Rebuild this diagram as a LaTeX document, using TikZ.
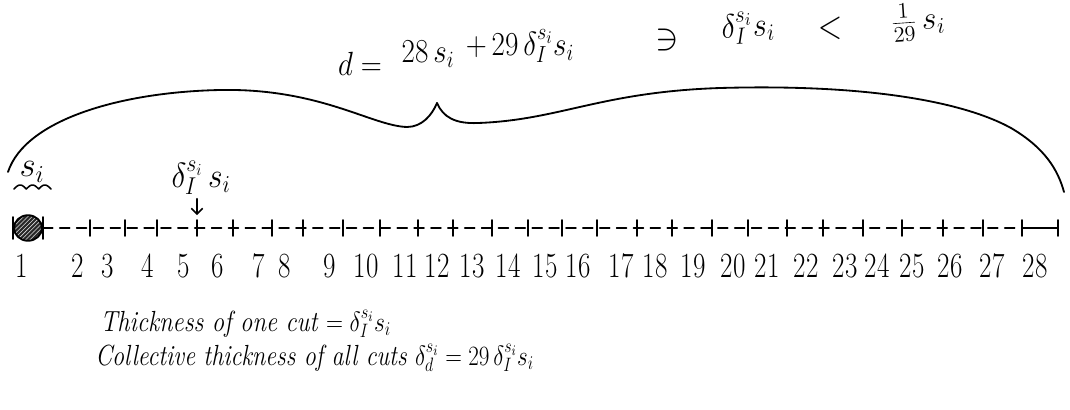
\documentclass[tikz,border=0pt]{standalone}
\usetikzlibrary{arrows.meta,patterns,calc,shapes.geometric}
\begin{document}
\begin{tikzpicture}[x=0.025cm,y=-0.025cm, line cap=round, line join=round,
  ink/.style={line width=1.3pt, black},
  tick/.style={line width=1.2pt, black},
  lbl/.style={font=\fontsize{24}{28}\selectfont, inner sep=0pt},
  biglbl/.style={font=\fontsize{22}{26}\selectfont, inner sep=0pt},
  txt/.style={font=\fontsize{18}{21}\selectfont\itshape, inner sep=0pt, anchor=base west}]
\useasboundingbox (0,0) rectangle (1070,409);

% top formula
\node[biglbl] (fd) at (360,64) {\scalebox{1}[1.15]{$d=$}};
\node[biglbl] (fa1) at (428,54) {\scalebox{1}[1.15]{$28\,s_i$}};
\node[biglbl] (fa2) at (520,46) {\scalebox{1}[1.15]{$+\,29\,\delta_I^{s_i}s_i$}};
\node[biglbl] (fni) at (667,40) {\scalebox{1.2}[1.3]{$\ni$}};
\node[biglbl, rotate=4] (fb1) at (748,28) {\scalebox{1.05}[1.15]{$\delta_I^{s_i}s_i$}};
\node[biglbl] (fb2) at (830,28) {\scalebox{1.1}[1.4]{$<$}};
\node[biglbl, rotate=4] (fb3) at (918,22) {\scalebox{1.1}[1.1]{$\frac{1}{29}\,s_i$}};

% brace
\draw[ink] (8,172) .. controls (25,120) and (120,92) .. (220,90)
  .. controls (320,88) and (372,126) .. (407,127)
  .. controls (422,127) and (432,115) .. (437,103);
\draw[ink] (437,103) .. controls (443,117) and (455,124) .. (478,123)
  .. controls (560,120) and (600,92) .. (720,88)
  .. controls (860,84) and (960,100) .. (1011,128)
  .. controls (1045,148) and (1058,170) .. (1064,192);

% ball
\node[ellipse, draw, ink, minimum width=0.7cm, minimum height=0.64cm, inner sep=0pt,
      preaction={fill=black!85}, pattern=north east lines, pattern color=white!85!black] (ball) at (28,228) {};
\draw[ink] ($(ball.west)+(0,-11)$) -- ($(ball.west)+(0,11)$);
\draw[ink] ($(ball.east)+(0,-11)$) -- ($(ball.east)+(0,11)$);

% s_i above ball with wavy brace
\node[lbl] (sball) at (32,172) {$s_i$};
\draw[line width=1.1pt] plot[domain=0:1, samples=40, smooth] ({14+37*\x},{189-4*abs(sin(540*\x))});

% ticks
\foreach \x [count=\i] in {90,125,157,197,233,272,303,343,380,418,453,492,528,562,597,637,672,712,748,787,823,863,902,943,983,1022,1058}
  \coordinate (t\i) at (\x,228);
\draw[line width=1.2pt, dash pattern=on 7pt off 5pt] (ball.east) -- (t26);
\draw[line width=1.2pt] (t26) -- (t27);
\foreach \i in {1,...,27}
  \draw[tick] ($(t\i)+(0,-8)$) -- ($(t\i)+(0,8)$);

% cut label and arrow
\node[lbl] (dlbl) at (201,178) {\scalebox{0.9}[1]{$\delta_I^{s_i}\,s_i$}};
\draw[line width=1.1pt, -{Straight Barb[length=4pt]}] (dlbl.south -| t4) ++(0,4) -- ($(t4)+(0,-13)$);

% numbers
\foreach \x [count=\i] in {22,78,108,148,184,218,259,285,330,366,405,437,472,508,545,578,621,655,693,733,767,806,845,877,912,950,992,1035}
  \node[lbl] (n\i) at (\x,266) {\scalebox{0.8}[1.05]{\i}};

% bottom text
\node[txt] (line1) at (100,331) {\scalebox{0.97}[1.15]{Thickness of one cut $=\delta_I^{s_i}s_i$}};
\node[txt] (line2) at (95,365) {\scalebox{0.95}[1.15]{Collective thickness of all cuts $\delta_d^{s_i}=29\,\delta_I^{s_i}s_i$}};
\end{tikzpicture}
\end{document}
